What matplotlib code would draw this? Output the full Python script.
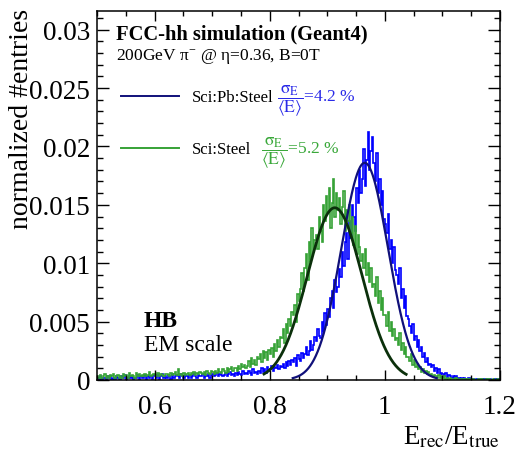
import numpy as np
import matplotlib
matplotlib.use("Agg")
import matplotlib.pyplot as plt
from matplotlib.lines import Line2D
from matplotlib.ticker import MultipleLocator, FixedLocator, FixedFormatter

plt.rcParams['font.family'] = ['Liberation Serif', 'DejaVu Serif']
plt.rcParams['mathtext.fontset'] = 'stix'

# Histogram binning: 280 bins of width 0.0025 between 0.5 and 1.2
bin_lo, bin_hi, n_bins = 0.5, 1.2, 280
unit = 1e-4  # entries below are in units of 1e-4, 8 bins per row (0.02 wide)

# Sci:Pb:Steel, normalized entries per bin (x 1e-4)
sci_pb_steel = [
    2, 1, 3, 1, 2, 2, 1, 3,          # 0.50
    2, 3, 1, 2, 1, 3, 2, 1,
    1, 3, 2, 4, 1, 2, 3, 2,
    3, 1, 2, 2, 4, 1, 3, 2,
    2, 4, 1, 3, 2, 3, 1, 4,
    3, 2, 4, 1, 3, 5, 2, 3,          # 0.60
    2, 4, 3, 1, 5, 2, 3, 4,
    3, 2, 5, 3, 2, 4, 3, 2,
    4, 2, 3, 5, 3, 2, 4, 3,
    3, 5, 2, 4, 3, 5, 2, 4,
    5, 3, 4, 6, 3, 5, 4, 3,          # 0.70
    4, 6, 3, 5, 7, 4, 5, 3,
    6, 4, 7, 5, 4, 8, 5, 6,
    5, 8, 6, 4, 9, 6, 7, 5,
    8, 6, 10, 7, 9, 6, 11, 8,
    9, 12, 8, 11, 10, 13, 9, 12,     # 0.80
    11, 14, 10, 15, 12, 16, 13, 17,
    15, 19, 12, 21, 18, 16, 23, 19,
    22, 28, 21, 25, 33, 26, 30, 37,
    33, 44, 38, 36, 50, 42, 57, 47,
    61, 54, 70, 76, 62, 86, 75, 80,  # 0.90
    95, 88, 110, 98, 118, 126, 104, 136,
    122, 150, 140, 128, 164, 152, 180, 160,
    172, 198, 166, 188, 212, 180, 196, 208,
    186, 170, 194, 160, 172, 150, 162, 138,
    134, 126, 142, 112, 120, 100, 114, 94,  # 1.00
    90, 82, 96, 70, 78, 62, 72, 55,
    52, 46, 40, 48, 34, 38, 28, 34,
    25, 28, 20, 23, 15, 19, 13, 14,
    11, 13, 8, 10, 6, 9, 5, 6,
    5, 3, 6, 2, 4, 3, 2, 3,          # 1.10
    2, 3, 1, 2, 1, 2, 1, 2,
    1, 1, 2, 0, 1, 1, 0, 1,
    1, 0, 1, 1, 0, 1, 0, 1,
    0, 1, 0, 0, 1, 0, 1, 0,
]

# Sci:Steel, normalized entries per bin (x 1e-4)
sci_steel = [
    3, 2, 4, 2, 3, 5, 2, 3,          # 0.50
    2, 4, 3, 5, 2, 3, 4, 2,
    3, 2, 5, 3, 4, 2, 6, 3,
    4, 3, 2, 6, 3, 5, 3, 4,
    3, 5, 3, 4, 7, 3, 4, 5,
    4, 3, 6, 3, 5, 4, 3, 5,          # 0.60
    5, 4, 3, 6, 4, 5, 7, 4,
    9, 4, 5, 3, 6, 4, 5, 6,
    4, 6, 5, 7, 4, 6, 5, 7,
    6, 5, 7, 4, 8, 6, 5, 8,
    7, 5, 8, 6, 9, 7, 6, 9,          # 0.70
    8, 6, 10, 7, 9, 11, 8, 10,
    10, 8, 12, 9, 14, 11, 13, 10,
    12, 16, 11, 19, 14, 17, 13, 20,
    18, 22, 15, 25, 19, 24, 17, 26,
    22, 27, 20, 31, 25, 34, 28, 37,  # 0.80
    36, 44, 32, 48, 40, 52, 46, 58,
    56, 64, 50, 74, 68, 78, 92, 76,
    96, 108, 86, 118, 102, 130, 110, 120,
    124, 112, 140, 128, 118, 150, 136, 158,
    144, 164, 130, 152, 172, 140, 160, 146,  # 0.90
    156, 134, 148, 162, 128, 146, 136, 150,
    126, 140, 116, 132, 108, 124, 114, 102,
    108, 96, 112, 90, 100, 84, 96, 80,
    82, 72, 88, 66, 76, 60, 70, 56,
    56, 46, 58, 42, 50, 38, 44, 34,  # 1.00
    36, 30, 40, 26, 32, 22, 28, 20,
    20, 16, 22, 13, 17, 11, 14, 9,
    11, 7, 9, 6, 8, 5, 7, 4,
    5, 3, 4, 3, 2, 4, 2, 3,
    2, 3, 1, 2, 1, 2, 1, 1,          # 1.10
    1, 2, 1, 0, 1, 1, 0, 1,
    1, 0, 1, 1, 0, 1, 0, 0,
    0, 1, 0, 1, 0, 0, 1, 0,
    1, 0, 0, 1, 0, 0, 1, 0,
]

# Gaussian fit results: mean, relative resolution, peak height, fit range
fit_pb = dict(mean=0.965, res=0.042, amp=0.0186, lo=0.84, hi=1.09)
fit_steel = dict(mean=0.913, res=0.052, amp=0.01475, lo=0.79, hi=1.037)

x_ticks = [0.6, 0.8, 1.0, 1.2]
x_ticklabels = ['0.6', '0.8', '1', '1.2']
y_ticks = [0, 0.005, 0.01, 0.015, 0.02, 0.025, 0.03]
y_ticklabels = ['0', '0.005', '0.01', '0.015', '0.02', '0.025', '0.03']

BLUE = '#0000ff'
GREEN = '#36a236'
BLUE_FIT = '#10107a'
GREEN_FIT = '#0b300b'

W, H = 520, 460
fig = plt.figure(figsize=(W / 100, H / 100), dpi=100)


def fx(px):
    return px / W


def fy(py):
    return 1 - py / H


ax = fig.add_axes([fx(97), fy(381), fx(500) - fx(97), fy(12) - fy(381)])

edges = np.linspace(bin_lo, bin_hi, n_bins + 1)
ax.stairs(np.array(sci_pb_steel) * unit, edges, color=BLUE, lw=1.2, baseline=None)
ax.stairs(np.array(sci_steel) * unit, edges, color=GREEN, lw=1.2, baseline=None)


def gauss_curve(p):
    x = np.linspace(p['lo'], p['hi'], 300)
    sigma = p['res'] * p['mean']
    return x, p['amp'] * np.exp(-0.5 * ((x - p['mean']) / sigma) ** 2)


xb, yb = gauss_curve(fit_pb)
ax.plot(xb, yb, color=BLUE_FIT, lw=1.6)
xg, yg = gauss_curve(fit_steel)
ax.plot(xg, yg, color=GREEN_FIT, lw=2.0)

ax.set_xlim(0.5, 1.2)
ax.set_ylim(0, 0.0316)

ax.xaxis.set_major_locator(FixedLocator(x_ticks))
ax.xaxis.set_major_formatter(FixedFormatter(x_ticklabels))
ax.xaxis.set_minor_locator(MultipleLocator(0.05))
ax.yaxis.set_major_locator(FixedLocator(y_ticks))
ax.yaxis.set_major_formatter(FixedFormatter(y_ticklabels))
ax.yaxis.set_minor_locator(MultipleLocator(0.001))

ax.tick_params(axis='both', which='both', direction='in', top=True, right=True,
               width=1.0, labelsize=19.5, colors='black')
ax.tick_params(axis='x', which='major', length=7.5, pad=10)
ax.tick_params(axis='x', which='minor', length=3.8)
ax.tick_params(axis='y', which='major', length=8.5, pad=5)
ax.tick_params(axis='y', which='minor', length=4.3)
for s in ax.spines.values():
    s.set_linewidth(1.1)

# axis titles
fig.text(fx(22), fy(9), 'normalized #entries', rotation=90, ha='center', va='top',
         fontsize=20)
fig.text(fx(500), fy(444), r'E$_{\mathrm{rec}}$/E$_{\mathrm{true}}$', ha='right',
         va='baseline', fontsize=19.5)

# header
fig.text(fx(116), fy(39), 'FCC-hh simulation (Geant4)', fontsize=14.8, fontweight='bold',
         va='baseline')
fig.text(fx(116), fy(60), r'200GeV π$^{\mathregular{-}}$ @ η=0.36, B=0T', fontsize=12.5,
         va='baseline')

# legend entries
fig.add_artist(Line2D([fx(121), fx(179)], [fy(97)] * 2, color=BLUE_FIT, lw=1.4))
fig.text(fx(192), fy(102), 'Sci:Pb:Steel', fontsize=12, va='baseline')
fig.text(fx(277), fy(102), r'$\dfrac{\mathrm{\sigma}_{\mathrm{E}}}{\langle \mathrm{E}\rangle}$=4.2 %',
         fontsize=12.5, va='baseline', color='#2a2ae8')

fig.add_artist(Line2D([fx(121), fx(179)], [fy(149)] * 2, color=GREEN, lw=1.4))
fig.text(fx(192), fy(154), 'Sci:Steel', fontsize=12, va='baseline')
fig.text(fx(261), fy(154), r'$\dfrac{\mathrm{\sigma}_{\mathrm{E}}}{\langle \mathrm{E}\rangle}$=5.2 %',
         fontsize=12.5, va='baseline', color='#3aa83a')

# detector / scale labels
fig.text(fx(144), fy(327), 'HB', fontsize=17, fontweight='bold', va='baseline')
fig.text(fx(144), fy(351), 'EM scale', fontsize=17, va='baseline')

fig.savefig('out.png', dpi=100)
